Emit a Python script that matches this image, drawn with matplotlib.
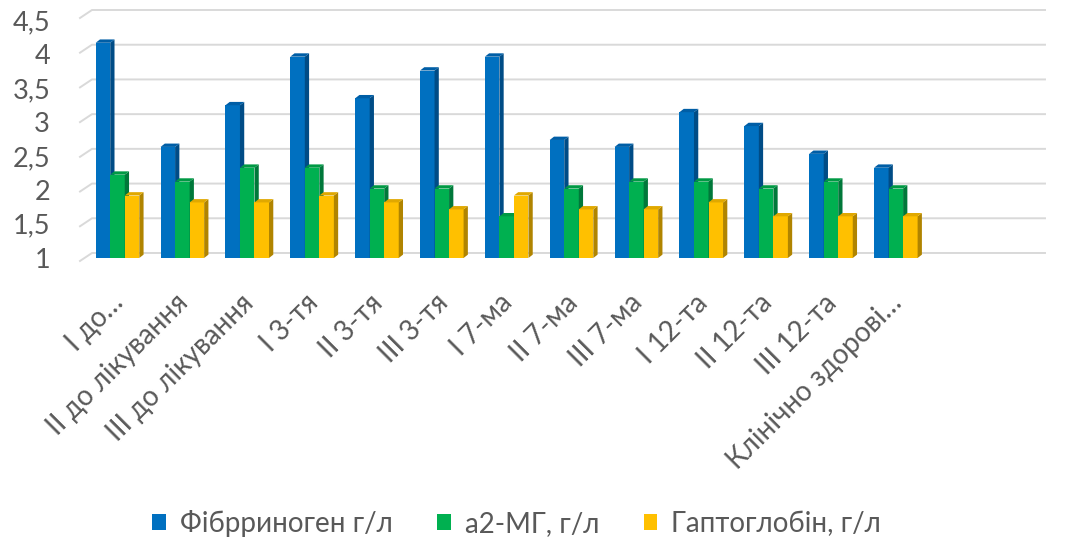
import numpy as np
import matplotlib
matplotlib.use("Agg")
import matplotlib.pyplot as plt
from matplotlib.patches import Patch

plt.rcParams['font.family'] = ['Lato', 'DejaVu Sans']

# Дані
categories = ["I до…", "II до лікування", "III до лікування", "I 3-тя", "II 3-тя",
              "III 3-тя", "I 7-ма", "II 7-ма", "III 7-ма", "I 12-та", "II 12-та",
              "III 12-та", "Клінічно здорові…"]
fibrinogen = [4.1, 2.6, 3.2, 3.9, 3.3, 3.7, 3.9, 2.7, 2.6, 3.1, 2.9, 2.5, 2.3]
a2mg = [2.2, 2.1, 2.3, 2.3, 2.0, 2.0, 1.6, 2.0, 2.1, 2.1, 2.0, 2.1, 2.0]
haptoglobin = [1.9, 1.8, 1.8, 1.9, 1.8, 1.7, 1.9, 1.7, 1.7, 1.8, 1.6, 1.6, 1.6]
series_names = ["Фібрриноген г/л", "а2-МГ, г/л", "Гаптоглобін, г/л"]
yticks = [1, 1.5, 2, 2.5, 3, 3.5, 4, 4.5]

# кольори: фронт, бік, верх
colors = [("#0070C0", "#004C86", "#005EA6"),
          ("#00B050", "#00783A", "#009944"),
          ("#FFC000", "#B08400", "#E0A800")]

base = 1.0
width = 0.224
dx, dy = 0.066, 0.048   # псевдо-3D глибина
gray = "#595959"

fig = plt.figure(figsize=(10.65, 5.41), dpi=100)
ax = fig.add_axes([80 / 1065, 1 - 265 / 541, 965 / 1065, 260 / 541])
ax.set_xlim(-0.578, 14.3)
ax.set_ylim(0.899, 4.644)
ax.axis("off")

# сітка "задньої стінки" з косими відрізками ліворуч
for v in yticks:
    ax.plot([-0.578, -0.393, 14.3], [v - 0.043, v + 0.072, v + 0.072],
            color="#D9D9D9", lw=1.4, zorder=0, clip_on=False)
    ax.text(-1.04, 0.971 + (v - 1) * 0.9755, f"{v:g}".replace(".", ","),
            ha="right", va="center", fontsize=19.5, color=gray)

x = np.arange(len(categories))
for k, vals in enumerate([fibrinogen, a2mg, haptoglobin]):
    front, side, top = colors[k]
    xs = x + (k - 1) * width
    bars = ax.bar(xs, np.array(vals) - base, width=width, bottom=base,
                  color=front, zorder=2 + k, linewidth=0)
    for b in bars:
        x0, x1 = b.get_x(), b.get_x() + b.get_width()
        h = b.get_y() + b.get_height()
        ax.fill([x1, x1 + dx, x1 + dx, x1], [base, base + dy, h + dy, h],
                color=side, zorder=2 + k, lw=0)
        ax.fill([x0, x0 + dx, x1 + dx, x1], [h, h + dy, h + dy, h],
                color=top, zorder=2 + k, lw=0)

for xi, lab in zip(x, categories):
    ax.text(xi + 0.03, -0.13, lab, transform=ax.get_xaxis_transform(),
            rotation=45, ha="right", va="center", rotation_mode="anchor",
            fontsize=20, color=gray)

handles = [Patch(facecolor=c[0], edgecolor="none") for c in colors]
fig.legend(handles, series_names, loc="center", ncol=3,
           bbox_to_anchor=(0.485, 0.033), frameon=False, fontsize=20,
           labelcolor=gray, handlelength=0.5, handleheight=0.5,
           handletextpad=0.5, columnspacing=1.6)

fig.savefig("out.png", dpi=100)
